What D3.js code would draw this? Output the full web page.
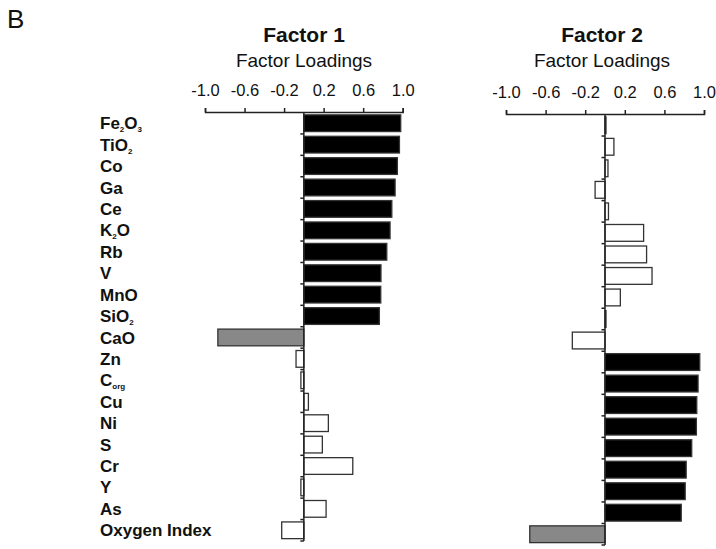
<!DOCTYPE html>
<html>
<head>
<meta charset="utf-8">
<script src="https://cdn.jsdelivr.net/npm/d3@7"></script>
<style>
  html, body { margin: 0; padding: 0; background: #fff; }
  svg { display: block; font-family: "Liberation Sans", Arial, sans-serif; }
</style>
</head>
<body>
<svg id="chart" width="716" height="549"></svg>
<script>
// Variables ({} marks subscript text)
const categories = ["Fe{2}O{3}", "TiO{2}", "Co", "Ga", "Ce", "K{2}O", "Rb", "V", "MnO", "SiO{2}",
  "CaO", "Zn", "C{org}", "Cu", "Ni", "S", "Cr", "Y", "As", "Oxygen Index"];
const factor1 = [0.98, 0.967, 0.946, 0.923, 0.89, 0.872, 0.839, 0.78, 0.778, 0.764,
  -0.87, -0.079, -0.03, 0.046, 0.248, 0.187, 0.495, -0.03, 0.225, -0.224];
const factor2 = [0.01, 0.09, 0.03, -0.1, 0.035, 0.39, 0.42, 0.475, 0.155, 0.01,
  -0.33, 0.957, 0.94, 0.927, 0.923, 0.876, 0.82, 0.81, 0.77, -0.76];
const tickValues = [-1.0, -0.6, -0.2, 0.2, 0.6, 1.0];
const panelTitles = ["Factor 1", "Factor 2"];
const axisTitle = "Factor Loadings";
const panelLetter = "B";

const svg = d3.select("#chart");

svg.append("text").attr("x", 7).attr("y", 28)
  .attr("font-size", 26).attr("fill", "#111").text(panelLetter);

// Category labels
const yLab = d3.scaleBand().domain(categories).range([112.6, 541]).paddingInner(0.22).paddingOuter(0.11);
const labG = svg.append("g");
categories.forEach(c => {
  const t = labG.append("text")
    .attr("x", 100).attr("y", yLab(c) + yLab.bandwidth() / 2 + 6)
    .attr("font-size", 17).attr("font-weight", "bold").attr("fill", "#111");
  const parts = c.split(/(\{[^}]*\})/).filter(s => s.length);
  let shifted = false;
  parts.forEach(p => {
    if (p.startsWith("{")) {
      t.append("tspan").attr("font-size", 8).attr("dy", 3).text(p.slice(1, -1));
      shifted = true;
    } else {
      const ts = t.append("tspan").text(p);
      if (shifted) { ts.attr("dy", -3); shifted = false; }
    }
  });
});

function panel(values, title, xr, axisY, bottom, titleX) {
  const x = d3.scaleLinear().domain([-1, 1]).range(xr);
  const y = d3.scaleBand().domain(categories).range([axisY + 0.5, bottom]).paddingInner(0.22).paddingOuter(0.11);
  const g = svg.append("g");

  g.append("text").attr("x", titleX).attr("y", 41.5).attr("text-anchor", "middle")
    .attr("font-size", 21).attr("font-weight", "bold").attr("fill", "#111").text(title);
  g.append("text").attr("x", titleX).attr("y", 67).attr("text-anchor", "middle")
    .attr("font-size", 19).attr("fill", "#111").text(axisTitle);

  const axis = d3.axisTop(x).tickValues(tickValues).tickFormat(d3.format(".1f")).tickSize(4).tickSizeOuter(4);
  const ag = g.append("g").attr("transform", `translate(0,${axisY})`).call(axis);
  ag.select(".domain").attr("stroke", "#222").attr("stroke-width", 1.5);
  ag.selectAll(".tick line").attr("stroke", "#222").attr("stroke-width", 1.5);
  ag.selectAll(".tick text").attr("font-size", 16.5).attr("fill", "#111").attr("dy", "-0.55em")
    .attr("font-family", "Liberation Sans, Arial, sans-serif")
    .text(d => d3.format(".1f")(d).replace("\u2212", "-"));

  const fillOf = v => v >= 0.7 ? "#000" : (v <= -0.7 ? "#888" : "#fff");
  g.selectAll("rect.bar").data(values).join("rect")
    .attr("class", "bar")
    .attr("x", v => x(Math.min(0, v)))
    .attr("width", v => Math.abs(x(v) - x(0)))
    .attr("y", (v, i) => y(categories[i]))
    .attr("height", y.bandwidth())
    .attr("fill", fillOf)
    .attr("stroke", "#333").attr("stroke-width", 1.3);

  // zero line
  g.append("line").attr("x1", x(0)).attr("x2", x(0)).attr("y1", axisY).attr("y2", bottom)
    .attr("stroke", "#222").attr("stroke-width", 1.5);
  // small ticks at band boundaries
  const step = y.step();
  g.selectAll("line.bt").data(d3.range(1, categories.length + 1)).join("line")
    .attr("class", "bt")
    .attr("x1", x(0) - 3.5).attr("x2", x(0))
    .attr("y1", i => axisY + 0.5 + i * step).attr("y2", i => axisY + 0.5 + i * step)
    .attr("stroke", "#222").attr("stroke-width", 1.5);
}

panel(factor1, panelTitles[0], [205, 402.7], 112, 541, 304);
panel(factor2, panelTitles[1], [506, 704], 114, 545, 602);
</script>
</body>
</html>
